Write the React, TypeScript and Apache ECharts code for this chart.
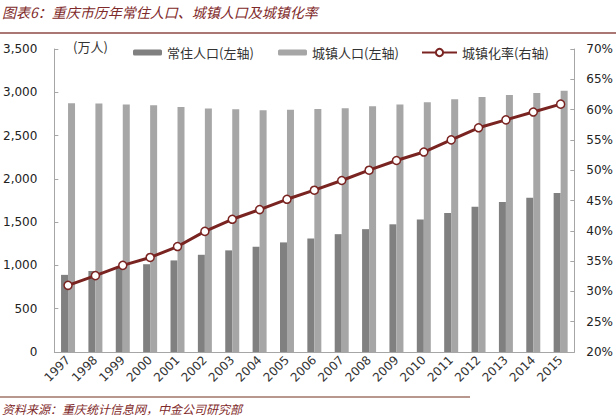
import React, { useEffect, useRef } from "react";
import * as echarts from "echarts";

const years = ["1997","1998","1999","2000","2001","2002","2003","2004","2005","2006","2007","2008","2009","2010","2011","2012","2013","2014","2015"];
// 常住人口(左轴) — dark gray bars (万人)
const residentPop = [891, 936, 981, 1014, 1058, 1123, 1174, 1215, 1266, 1311, 1361, 1419, 1475, 1530, 1606, 1678, 1733, 1783, 1838];
// 城镇人口(左轴) — light gray bars (万人)
const urbanPop = [2873, 2870, 2860, 2849, 2829, 2814, 2803, 2793, 2798, 2808, 2816, 2839, 2859, 2885, 2919, 2945, 2970, 2991, 3017];
// 城镇化率(右轴) %
const urbanRate = [31.0, 32.6, 34.3, 35.6, 37.4, 39.9, 41.9, 43.5, 45.2, 46.7, 48.3, 50.0, 51.6, 53.0, 55.0, 57.0, 58.3, 59.6, 60.9];

const TITLE = "图表6：重庆市历年常住人口、城镇人口及城镇化率";
const SOURCE = "资料来源：重庆统计信息网，中金公司研究部";
const UNIT = "(万人)";
const NAMES = ["常住人口(左轴)", "城镇人口(左轴)", "城镇化率(右轴)"];

const CJK = '"Noto Sans CJK SC", "DejaVu Sans", sans-serif';
const NUM = '"DejaVu Sans", sans-serif';
const RED = "#7A2422";

export default function App() {
  const ref = useRef<HTMLDivElement>(null);
  useEffect(() => {
    const chart = echarts.init(ref.current!, null, { renderer: "svg" });
    const legendText = { fontFamily: CJK, fontSize: 13, color: "#333" };
    chart.setOption({
      animation: false,
      backgroundColor: "#fff",
      grid: { left: 52, right: 38, top: 49, bottom: 66, containLabel: false },
      legend: [
        { data: [NAMES[0]], left: 128, top: 41, itemWidth: 29, itemHeight: 6, itemGap: 0, textStyle: legendText },
        { data: [NAMES[1]], left: 273, top: 41, itemWidth: 29, itemHeight: 6, itemGap: 0, textStyle: legendText },
        { data: [NAMES[2]], left: 416, top: 41, itemWidth: 35, itemHeight: 9, itemGap: 0, textStyle: legendText },
      ],
      xAxis: {
        type: "category",
        data: years,
        axisLine: { lineStyle: { color: "#A6A6A6", width: 1 } },
        axisTick: { inside: true, length: 3, lineStyle: { color: "#A6A6A6" } },
        axisLabel: { rotate: 45, fontFamily: NUM, fontSize: 12, color: "#333", margin: 6, interval: 0 },
      },
      yAxis: [
        {
          type: "value", min: 0, max: 3500, interval: 500,
          axisLine: { show: true, lineStyle: { color: "#A6A6A6" } },
          axisTick: { show: true, inside: true, length: 4, lineStyle: { color: "#A6A6A6" } },
          splitLine: { show: false },
          axisLabel: {
            fontFamily: NUM, fontSize: 12, color: "#222", margin: 17,
            formatter: (v: number) => v.toLocaleString("en-US"),
          },
        },
        {
          type: "value", min: 20, max: 70, interval: 5, position: "right",
          axisLine: { show: true, lineStyle: { color: "#A6A6A6" } },
          axisTick: { show: true, inside: true, length: 4, lineStyle: { color: "#A6A6A6" } },
          splitLine: { show: false },
          axisLabel: { fontFamily: NUM, fontSize: 12, color: "#222", margin: 12, formatter: "{value}%" },
        },
      ],
      series: [
        { name: NAMES[0], type: "bar", data: residentPop, barWidth: 7, barGap: "0%", itemStyle: { color: "#808080" } },
        { name: NAMES[1], type: "bar", data: urbanPop, barWidth: 7, barGap: "0%", itemStyle: { color: "#A6A6A6" } },
        {
          name: NAMES[2], type: "line", yAxisIndex: 1, data: urbanRate,
          symbol: "circle", symbolSize: 8,
          lineStyle: { color: RED, width: 3 },
          itemStyle: { color: "#fff", borderColor: RED, borderWidth: 1.5 },
        },
      ],
      graphic: [
        { type: "text", left: 2, top: 5, style: { text: TITLE, font: `italic 14px ${CJK}`, fill: "#7F2A2A" } },
        { type: "line", shape: { x1: 0, y1: 33, x2: 616, y2: 33 }, style: { stroke: "#8E4A46", lineWidth: 1.5 } },
        { type: "text", left: 73, top: 40, style: { text: UNIT, font: `13px ${CJK}`, fill: "#333" } },
        { type: "line", shape: { x1: 0, y1: 397, x2: 470, y2: 397 }, style: { stroke: "#A0746A", lineWidth: 1.5 } },
        { type: "text", left: 2, top: 402, style: { text: SOURCE, font: `italic 12px ${CJK}`, fill: "#7F2A2A" } },
      ],
    });
    return () => chart.dispose();
  }, []);
  return <div ref={ref} style={{ width: 616, height: 418, position: "absolute", left: 0, top: 0 }} />;
}
